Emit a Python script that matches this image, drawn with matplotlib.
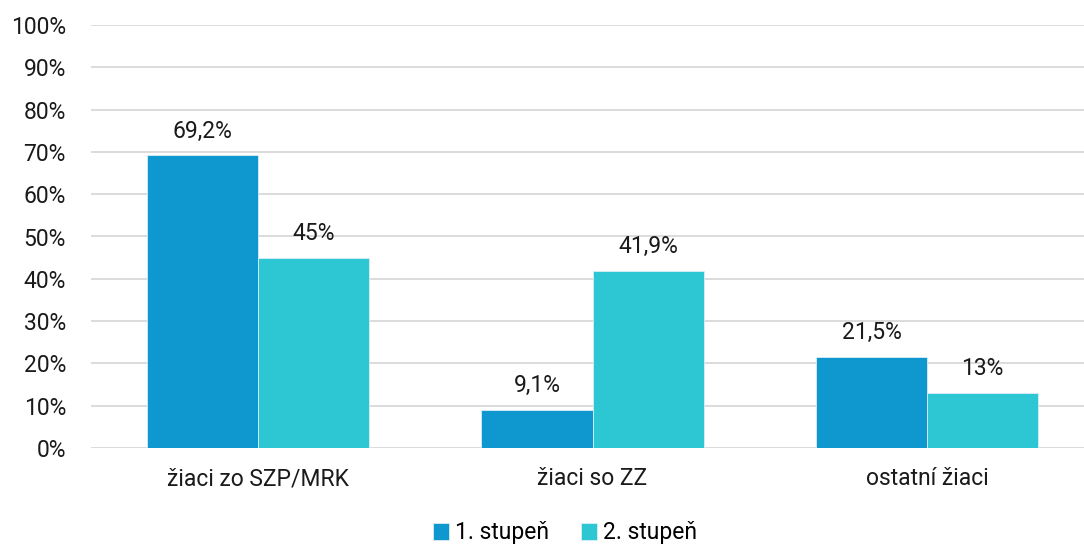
import matplotlib.pyplot as plt
import numpy as np

plt.rcParams['font.family'] = ['Roboto', 'DejaVu Sans']

categories = ["žiaci zo SZP/MRK", "žiaci so ZZ", "ostatní žiaci"]
series_names = ["1. stupeň", "2. stupeň"]
stupen1 = [69.2, 9.1, 21.5]
stupen2 = [45, 41.9, 13]
labels1 = ["69,2%", "9,1%", "21,5%"]
labels2 = ["45%", "41,9%", "13%"]
colors = ["#0E98CF", "#2DC6D3"]

fs = 16.5

fig = plt.figure(figsize=(10.84, 5.45), dpi=100)
ax = fig.add_axes([91 / 1084, 1 - 448 / 545, 1 - 91 / 1084, 423 / 545])

x = np.arange(len(categories))
w = 0.332
b1 = ax.bar(x - w / 2, stupen1, w, color=colors[0], label=series_names[0],
            edgecolor="#D8EEF6", linewidth=0.6, zorder=3)
b2 = ax.bar(x + w / 2, stupen2, w, color=colors[1], label=series_names[1],
            edgecolor="#D8EEF6", linewidth=0.6, zorder=3)

for bars, labs in ((b1, labels1), (b2, labels2)):
    for r, lab in zip(bars, labs):
        ax.text(r.get_x() + r.get_width() / 2, r.get_height() + 3.0, lab,
                ha="center", va="bottom", fontsize=fs, color="#1a1a1a")

ax.set_ylim(0, 100)
ax.set_xlim(-0.499, 2.469)
ax.set_yticks(range(0, 101, 10))
ax.set_yticklabels([f"{v}%" for v in range(0, 101, 10)])
ax.set_xticks(x)
ax.set_xticklabels(categories)
ax.tick_params(axis="both", length=0, labelsize=fs, colors="#1a1a1a")
ax.tick_params(axis="x", pad=14)
ax.tick_params(axis="y", pad=18)
ax.grid(axis="y", color="#D9D9D9", linewidth=1.3, zorder=0)
for s in ax.spines.values():
    s.set_visible(False)

fig.legend(loc="center", bbox_to_anchor=(565 / 1084, 1 - 533 / 545), ncol=2,
           frameon=False, fontsize=fs, handlelength=0.7, handleheight=0.7,
           handletextpad=0.25, columnspacing=1.4, borderaxespad=0)

fig.savefig("out.png", dpi=100)
